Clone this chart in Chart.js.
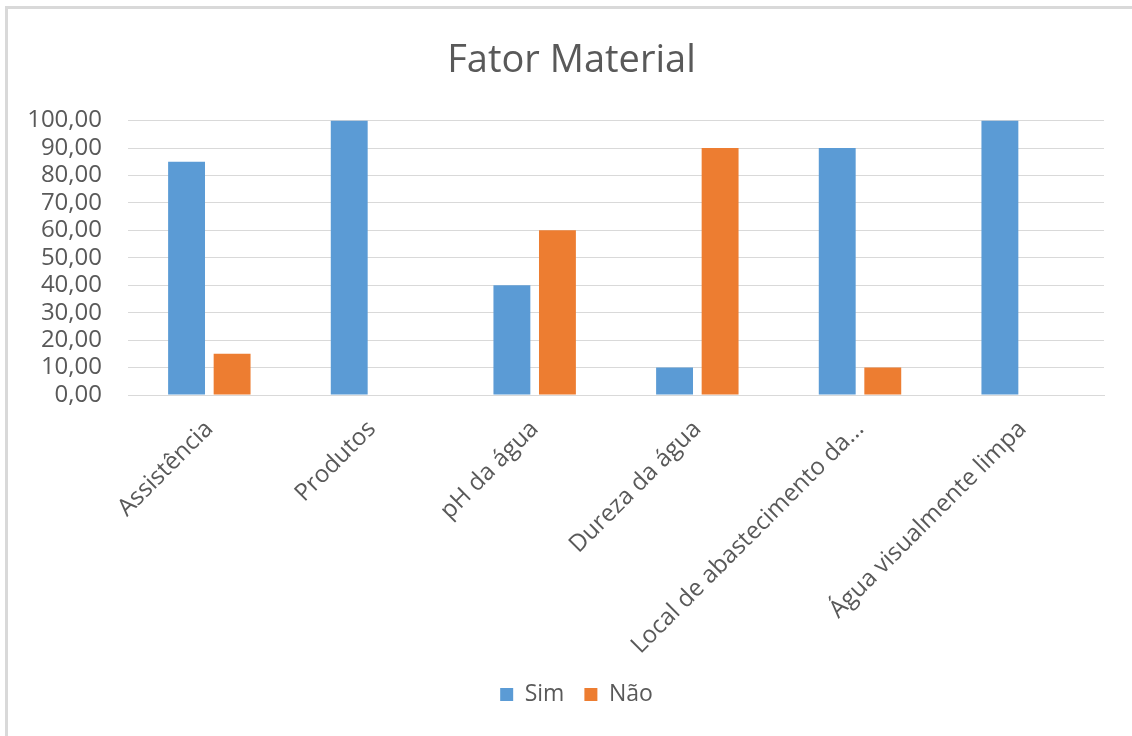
<!DOCTYPE html>
<html>
<head>
<meta charset="utf-8">
<script src="https://cdn.jsdelivr.net/npm/chart.js@4.4.1/dist/chart.umd.min.js"></script>
<style>
  html, body { margin: 0; padding: 0; background: #ffffff; }
  #frame {
    position: absolute; left: 0; top: 0; width: 1132px; height: 736px;
    overflow: hidden;
  }
  #edge {
    position: absolute; left: 5px; top: 6px; width: 1140px; height: 760px;
    border-left: 3px solid #d9d9d9; border-top: 3px solid #d9d9d9;
    box-sizing: border-box; pointer-events: none;
  }
  canvas { position: absolute; left: 0; top: 0; }
</style>
</head>
<body>
<div id="frame">
  <canvas id="chart" width="1132" height="736"></canvas>
  <div id="edge"></div>
</div>
<script>
// Categories and series values
const categories = [
  "Assistência",
  "Produtos",
  "pH da água",
  "Dureza da água",
  "Local de abastecimento da...",
  "Água visualmente limpa"
];
const simValues = [85, 100, 40, 10, 90, 100];
const naoValues = [15, 0, 60, 90, 10, 0];
const yTicks = [0, 10, 20, 30, 40, 50, 60, 70, 80, 90, 100];

const FONT = "'Open Sans', 'Noto Sans', sans-serif";
const TEXT = "#595959";

Chart.defaults.font.family = FONT;
Chart.defaults.color = TEXT;

// Title and legend sit centred on the whole frame rather than the padded box
const recentre = {
  id: "recentre",
  afterLayout(chart) {
    const shift = (box, dx) => { if (box) { box.left += dx; box.right += dx; } };
    shift(chart.titleBlock, 6);
    shift(chart.legend, 11);
  }
};

new Chart(document.getElementById("chart"), {
  type: "bar",
  data: {
    labels: categories,
    datasets: [
      { label: "Sim", data: simValues, backgroundColor: "#5b9bd5" },
      { label: "Não", data: naoValues, backgroundColor: "#ed7d31" }
    ]
  },
  plugins: [recentre],
  options: {
    responsive: false,
    animation: false,
    devicePixelRatio: 1,
    layout: { padding: { left: 27, right: 28, top: 38, bottom: 20 } },
    datasets: {
      bar: { categoryPercentage: 0.56, barPercentage: 0.81 }
    },
    plugins: {
      title: {
        display: true,
        text: "Fator Material",
        color: TEXT,
        font: { size: 38, weight: "normal", family: FONT },
        padding: { top: 0, bottom: 37 }
      },
      legend: {
        position: "bottom",
        labels: {
          color: TEXT,
          font: { size: 23, family: FONT },
          boxWidth: 13,
          boxHeight: 13,
          padding: 20
        }
      },
      tooltip: { enabled: false }
    },
    scales: {
      x: {
        grid: { display: false },
        border: { display: true, color: "#d9d9d9", width: 1 },
        afterFit(scale) {
          // fixed band for the slanted category names
          scale.height = 268;
          scale.paddingLeft = 0;
          scale.paddingRight = 0;
        },
        ticks: {
          color: TEXT,
          font: { size: 24, family: FONT },
          maxRotation: 45,
          minRotation: 45,
          padding: 12,
          autoSkip: false
        }
      },
      y: {
        min: 0,
        max: 100,
        afterBuildTicks(axis) { axis.ticks = yTicks.map(v => ({ value: v })); },
        afterFit(scale) { scale.width = 101; },
        grid: { color: "#d9d9d9", lineWidth: 1, drawTicks: false },
        border: { display: false },
        ticks: {
          color: TEXT,
          font: { size: 24, family: FONT },
          padding: 26,
          autoSkip: false,
          callback: v => v.toFixed(2).replace(".", ",")
        }
      }
    }
  }
});
</script>
</body>
</html>
